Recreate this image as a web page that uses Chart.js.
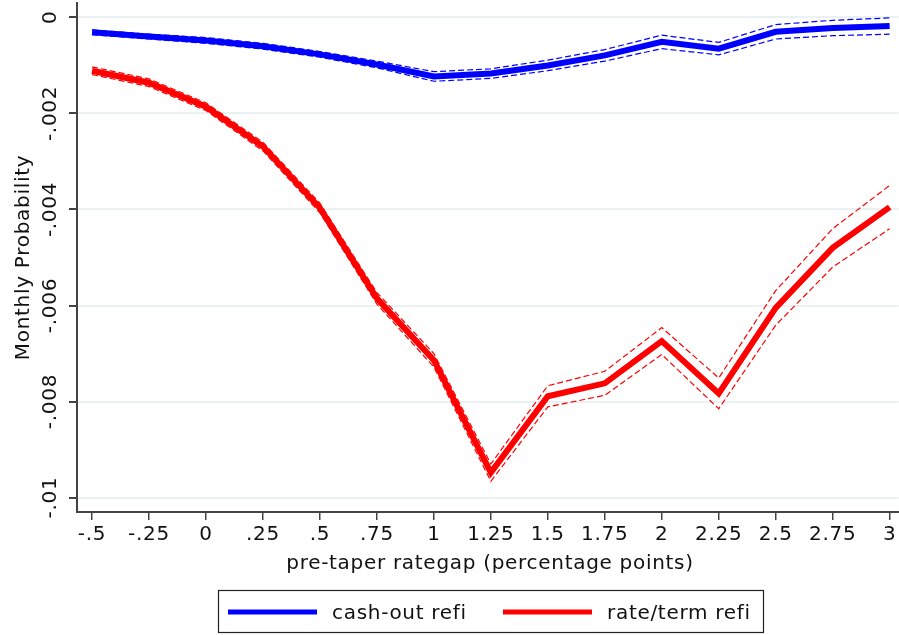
<!DOCTYPE html>
<html>
<head>
<meta charset="utf-8">
<script src="https://cdn.jsdelivr.net/npm/chart.js@4.4.1/dist/chart.umd.min.js"></script>
<style>
  html, body { margin: 0; padding: 0; background: #fff; }
  #wrap { width: 899px; height: 635px; }
</style>
</head>
<body>
<div id="wrap"><canvas id="chart" width="899" height="635"></canvas></div>
<script>
// data
const rategap = [-0.5, -0.25, 0, 0.25, 0.5, 0.75, 1, 1.25, 1.5, 1.75, 2, 2.25, 2.5, 2.75, 3];
const cashOut = [-0.00031, -0.0004, -0.00048, -0.0006, -0.00077, -0.00098, -0.00123, -0.00117, -0.001, -0.00079, -0.00051, -0.00065, -0.0003, -0.00022, -0.00018];
const cashOutLo = [-0.00036, -0.00045, -0.00054, -0.00066, -0.00083, -0.00105, -0.00133, -0.00127, -0.00111, -0.00091, -0.00065, -0.00078, -0.00045, -0.00038, -0.00035];
const cashOutHi = [-0.00026, -0.00035, -0.00042, -0.00054, -0.00071, -0.00091, -0.00113, -0.00107, -0.00089, -0.00067, -0.00037, -0.00052, -0.00015, -0.00006, -0.00001];
const rateTerm = [-0.00111, -0.00136, -0.00186, -0.00269, -0.00397, -0.00585, -0.00714, -0.00948, -0.00789, -0.00762, -0.00674, -0.00783, -0.00605, -0.0048, -0.00395];
const rateTermLo = [-0.00119, -0.00144, -0.00194, -0.00278, -0.00407, -0.00597, -0.00728, -0.00966, -0.00811, -0.00787, -0.00702, -0.00815, -0.00641, -0.0052, -0.0044];
const rateTermHi = [-0.00103, -0.00128, -0.00178, -0.0026, -0.00387, -0.00573, -0.007, -0.0093, -0.00767, -0.00737, -0.00646, -0.00751, -0.00569, -0.0044, -0.0035];

const xTicks = [-0.5, -0.25, 0, 0.25, 0.5, 0.75, 1, 1.25, 1.5, 1.75, 2, 2.25, 2.5, 2.75, 3];
const yTicks = [0, -0.002, -0.004, -0.006, -0.008, -0.01];
const seriesNames = ['cash-out refi', 'rate/term refi'];
const xTitle = 'pre-taper rategap (percentage points)';
const yTitle = 'Monthly Probability';

const FONT = '"DejaVu Sans", sans-serif';
const FSIZE = 20;
const SPACING = '0.7px';
const BLUE = '#0000ff';
const RED = '#ff0000';

// Stata style: drop the leading zero
function fmt(v) {
  if (Math.abs(v) < 1e-12) return '0';
  return String(+v.toFixed(4)).replace('0.', '.');
}

function pts(ys) {
  return rategap.map((x, i) => ({ x, y: ys[i] }));
}

function mainLine(label, ys, color) {
  return { label, data: pts(ys), borderColor: color, borderWidth: 6, pointRadius: 0, tension: 0, order: 2 };
}
function ciLine(ys, color) {
  return { label: '', data: pts(ys), borderColor: color, borderWidth: 1.2, borderDash: [6, 3], pointRadius: 0, tension: 0, order: 1 };
}

// texts Chart.js can't place like Stata: rotated y labels, titles, boxed legend
const decor = {
  id: 'decor',
  beforeDraw(chart) {
    chart.ctx.letterSpacing = SPACING;
  },
  afterDraw(chart) {
    const ctx = chart.ctx;
    const y = chart.scales.y;
    const area = chart.chartArea;
    ctx.save();
    ctx.letterSpacing = SPACING;
    ctx.fillStyle = '#111';
    ctx.font = FSIZE + 'px ' + FONT;
    ctx.textAlign = 'center';
    ctx.textBaseline = 'alphabetic';
    yTicks.forEach(v => {
      ctx.save();
      ctx.translate(56, y.getPixelForValue(v));
      ctx.rotate(-Math.PI / 2);
      ctx.fillText(fmt(v), 0, 0);
      ctx.restore();
    });
    ctx.save();
    ctx.translate(29, (area.top + area.bottom) / 2);
    ctx.rotate(-Math.PI / 2);
    ctx.fillText(yTitle, 0, 0);
    ctx.restore();

    ctx.fillText(xTitle, 490, 569);

    // legend
    ctx.strokeStyle = '#222';
    ctx.lineWidth = 1.2;
    ctx.strokeRect(218.5, 590.5, 545, 42);
    ctx.lineWidth = 5;
    ctx.strokeStyle = BLUE;
    ctx.beginPath(); ctx.moveTo(228, 612); ctx.lineTo(317, 612); ctx.stroke();
    ctx.strokeStyle = RED;
    ctx.beginPath(); ctx.moveTo(503, 612); ctx.lineTo(592, 612); ctx.stroke();
    ctx.textAlign = 'left';
    ctx.fillText(seriesNames[0], 332, 619);
    ctx.fillText(seriesNames[1], 607, 619);
    ctx.restore();
  }
};

new Chart(document.getElementById('chart'), {
  type: 'line',
  data: {
    datasets: [
      mainLine(seriesNames[0], cashOut, BLUE),
      ciLine(cashOutLo, BLUE),
      ciLine(cashOutHi, BLUE),
      mainLine(seriesNames[1], rateTerm, RED),
      ciLine(rateTermLo, RED),
      ciLine(rateTermHi, RED)
    ]
  },
  options: {
    responsive: false,
    animation: false,
    layout: { padding: { top: 3, right: 0, bottom: 0, left: 0 } },
    plugins: { legend: { display: false }, tooltip: { enabled: false } },
    scales: {
      x: {
        type: 'linear',
        min: -0.566,
        max: 3.04,
        afterBuildTicks: s => { s.ticks = xTicks.map(v => ({ value: v })); },
        afterFit: s => { s.height = 123; },
        grid: { drawOnChartArea: false, drawTicks: true, tickLength: 8, tickColor: '#444', lineWidth: 1.5 },
        border: { color: '#444', width: 2 },
        ticks: {
          callback: v => fmt(v),
          maxRotation: 0, minRotation: 0, autoSkip: false,
          padding: 3,
          color: '#111',
          font: { family: FONT, size: FSIZE }
        }
      },
      y: {
        type: 'linear',
        min: -0.0103,
        max: 0.0003,
        afterBuildTicks: s => { s.ticks = yTicks.map(v => ({ value: v })); },
        afterFit: s => { s.width = 77; },
        grid: { color: '#eaf1f3', lineWidth: 2, tickColor: '#444', tickLength: 8 },
        border: { color: '#444', width: 2 },
        ticks: { display: false }
      }
    }
  },
  plugins: [decor]
});
</script>
</body>
</html>
